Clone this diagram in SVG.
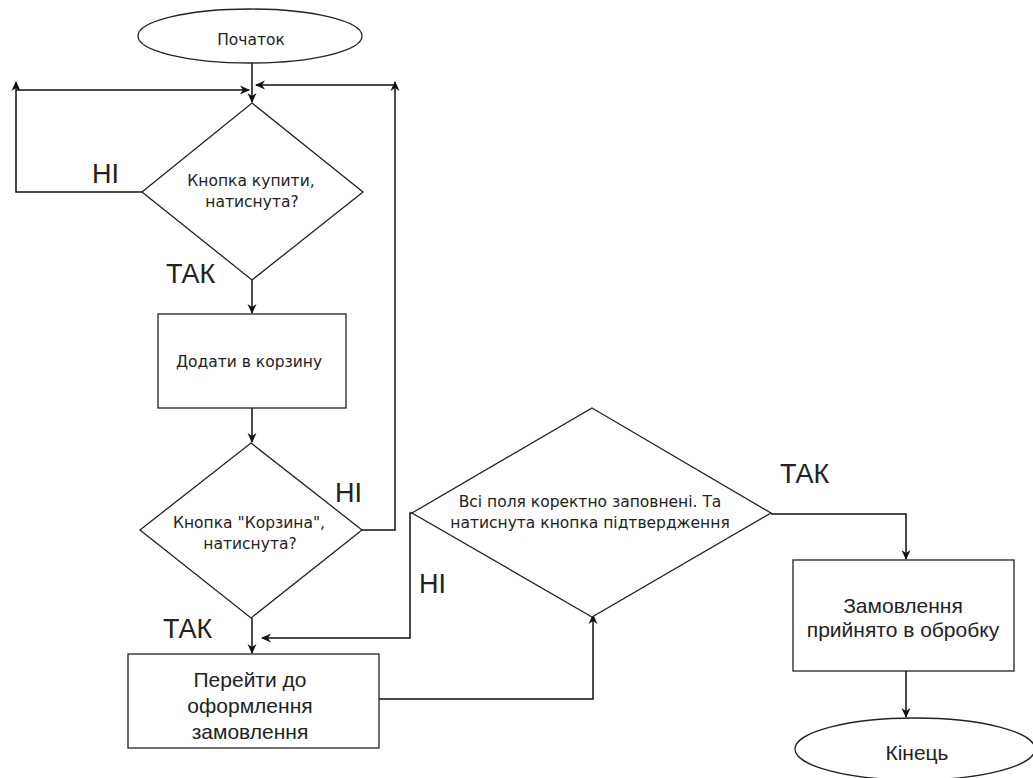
<svg xmlns="http://www.w3.org/2000/svg" width="1033" height="778" viewBox="0 0 1033 778">
<style>
.s{fill:#fff;stroke:#222;stroke-width:1.3}
.c{fill:none;stroke:#111;stroke-width:1.5}
text{font-family:"Liberation Sans",Arial,sans-serif;fill:#222;text-anchor:middle}
.sm{font-family:"DejaVu Sans","Liberation Sans",sans-serif;font-size:15.5px}
.md{font-size:21px}
.lb{font-size:27px;text-anchor:start}
</style>
<defs>
<marker id="a" markerWidth="10" markerHeight="10" refX="9" refY="5" orient="auto" markerUnits="userSpaceOnUse">
<path d="M0,0.5 L10,5 L0,9.5 L3,5 Z" fill="#111"/>
</marker>
</defs>
<rect width="1033" height="778" fill="#fff"/>
<g id="connectors">
<path class="c" d="M252,63 V102" marker-end="url(#a)"/>
<path class="c" d="M142,192 H16 V82" marker-end="url(#a)"/>
<path class="c" d="M16,90 H249" marker-end="url(#a)"/>
<path class="c" d="M362,530 H395 V82" marker-end="url(#a)"/>
<path class="c" d="M395,85 H256" marker-end="url(#a)"/>
<path class="c" d="M252,280 V313" marker-end="url(#a)"/>
<path class="c" d="M252,408 V442" marker-end="url(#a)"/>
<path class="c" d="M252,618 V653" marker-end="url(#a)"/>
<path class="c" d="M412,513 H410 V638 H262" marker-end="url(#a)"/>
<path class="c" d="M379,699 H593 V615" marker-end="url(#a)"/>
<path class="c" d="M771,514 H906 V559" marker-end="url(#a)"/>
<path class="c" d="M906,671 V717" marker-end="url(#a)"/>
</g>
<g id="labels">
<text class="lb" x="92" y="183">НІ</text>
<text class="lb" x="166" y="283">ТАК</text>
<text class="lb" x="335" y="502">НІ</text>
<text class="lb" x="163" y="638">ТАК</text>
<text class="lb" x="419" y="593">НІ</text>
<text class="lb" x="780" y="483">ТАК</text>
</g>
<g id="start">
<ellipse class="s" cx="250" cy="36" rx="112" ry="27"/>
<text class="sm" x="251" y="45">Початок</text>
</g>
<g id="d1">
<polygon class="s" points="252,103 363,192 252,280 142,192"/>
<text class="sm" x="251" y="186">Кнопка купити,</text>
<text class="sm" x="252" y="207">натиснута?</text>
</g>
<g id="r1">
<rect class="s" x="158" y="314" width="188" height="94"/>
<text class="sm" x="249" y="367">Додати в корзину</text>
</g>
<g id="d2">
<polygon class="s" points="251,443 362,530 251,618 140,530"/>
<text class="sm" x="249" y="528">Кнопка "Корзина",</text>
<text class="sm" x="250" y="549">натиснута?</text>
</g>
<g id="r2">
<rect class="s" x="128" y="654" width="251" height="94"/>
<text class="md" x="250" y="687">Перейти до</text>
<text class="md" x="250" y="713">оформлення</text>
<text class="md" x="250" y="739">замовлення</text>
</g>
<g id="d3">
<polygon class="s" points="592,408 771,513 592,617 412,513"/>
<text class="sm" x="590" y="507">Всі поля коректно заповнені. Та</text>
<text class="sm" x="590" y="528">натиснута кнопка підтвердження</text>
</g>
<g id="r3">
<rect class="s" x="793" y="560" width="221" height="111"/>
<text class="md" x="903" y="613">Замовлення</text>
<text class="md" x="903" y="637">прийнято в обробку</text>
</g>
<g id="end">
<ellipse class="s" cx="915" cy="749" rx="120" ry="31"/>
<text class="md" x="917" y="760">Кінець</text>
</g>
</svg>
